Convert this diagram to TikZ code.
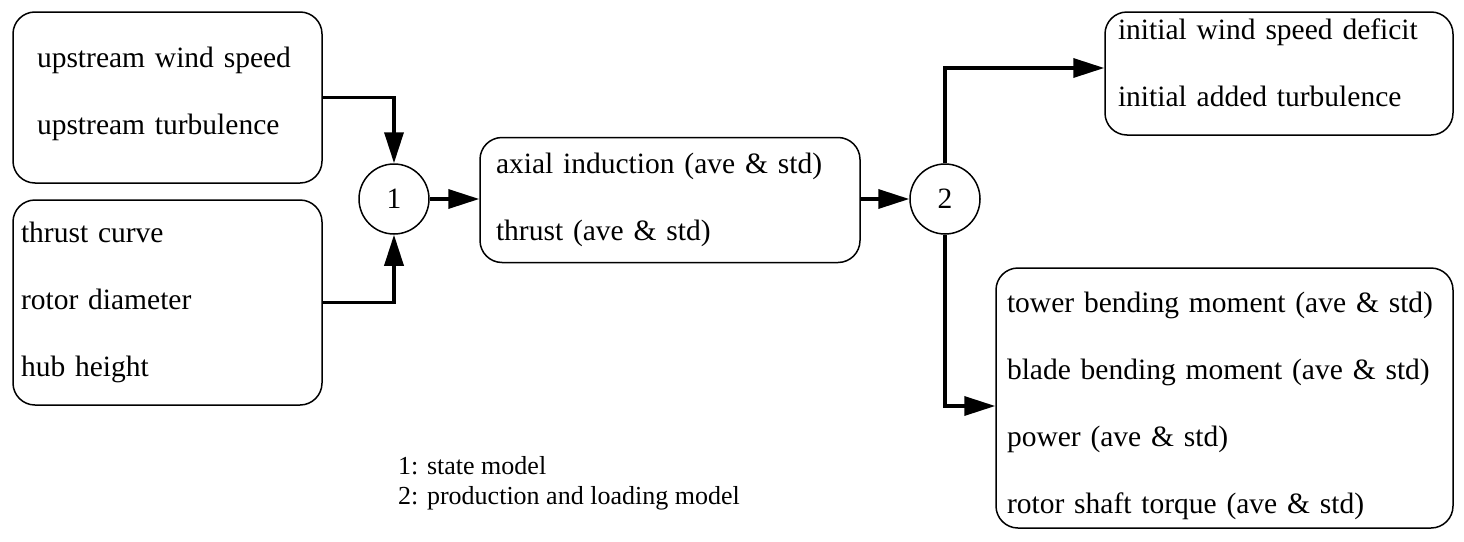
\documentclass[tikz,border=0pt]{standalone}
\usepackage{fontspec}
\setmainfont{Liberation Serif}
\usepackage{tikz}
\usetikzlibrary{arrows.meta,positioning,shapes}

\tikzset{
  panel/.style={rectangle, draw, line width=1.5pt, rounded corners=22pt, align=left,
    font=\fontsize{29.5}{67}\selectfont},
  joint/.style={circle, draw, line width=1.5pt, minimum size=70pt, inner sep=0pt,
    font=\fontsize{29.5}{34}\selectfont},
  flow/.style={line width=3.5pt, -{Triangle[length=31pt,width=19pt]}}
}

\begin{document}
\begin{tikzpicture}[x=1pt, y=-1pt]
    \useasboundingbox (0,0) rectangle (1464,541);

    \node (upstream) [panel, minimum width=309pt, minimum height=171pt, text width=261pt, inner xsep=24pt, text height=20pt, text depth=81pt] at (167.5,97.5) {upstream wind speed\\upstream turbulence};
    \node (turbine) [panel, minimum width=309pt, minimum height=205pt, text width=293pt, inner xsep=8pt] at (167.5,302.5) {thrust curve\\rotor diameter\\hub height};
    \node (one) [joint] at (394,199) {1};
    \node (induction) [panel, minimum width=380pt, minimum height=125pt, text width=348pt, inner xsep=16pt] at (670,200) {axial induction (ave \& std)\\thrust (ave \& std)};
    \node (two) [joint] at (945,199) {2};
    \node (wake) [panel, minimum width=348pt, minimum height=123pt, text width=322pt, inner xsep=13pt, text height=20pt, text depth=89pt] at (1279,73.5) {initial wind speed deficit\\initial added turbulence};
    \node (loads) [panel, minimum width=457pt, minimum height=260pt, text width=435pt, inner xsep=11pt, text height=22pt, text depth=193pt] at (1224.5,398) {tower bending moment (ave \& std)\\blade bending moment (ave \& std)\\power (ave \& std)\\rotor shaft torque (ave \& std)};

    \node (legend) [anchor=west, align=left, inner sep=0pt, font=\fontsize{26}{30}\selectfont] at (398,483) {1: state model\\2: production and loading model};

    \draw [flow] (upstream.east) -| (one.north);
    \draw [flow] (turbine.east) -| (one.south);
    \draw [flow] (one.east) -- (induction.west |- one.east);
    \draw [flow] (induction.east |- two.west) -- (two.west);
    \draw [flow] (two.north) |- ([yshift=5.5pt]wake.west);
    \draw [flow] (two.south) |- ([yshift=-8pt]loads.west);
\end{tikzpicture}
\end{document}
